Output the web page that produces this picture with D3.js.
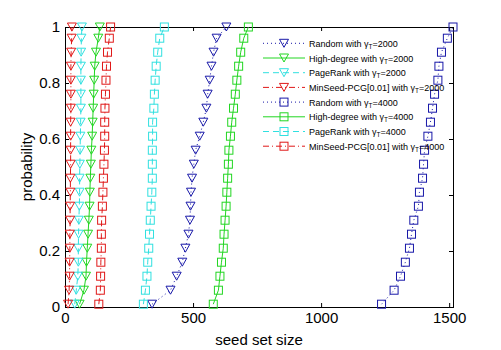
<!DOCTYPE html>
<html>
<head>
<meta charset="utf-8">
<script src="https://cdn.jsdelivr.net/npm/d3@7"></script>
<style>
  html, body { margin: 0; padding: 0; background: #fff; }
  svg { display: block; }
  text { font-family: "Liberation Sans", Arial, Helvetica, sans-serif; }
</style>
</head>
<body>
<svg id="chart" width="501" height="350"></svg>
<script>
// ---- data ----
const probabilities = [0.01, 0.06, 0.11, 0.16, 0.21, 0.26, 0.31, 0.36, 0.41, 0.46, 0.51,
                       0.56, 0.61, 0.66, 0.71, 0.76, 0.81, 0.86, 0.91, 0.96, 1.00];

const random2000    = [340, 412, 436, 458, 470, 482, 488, 490, 492, 496, 503, 510, 526, 540, 552, 557, 565, 572, 580, 592, 630];
const highdeg2000   = [57, 74, 82, 84, 87, 90, 93, 96, 97, 99, 101, 103, 106, 108, 110, 112, 114, 116, 121, 130, 136];
const pagerank2000  = [38, 44, 50, 52, 52, 53, 54, 56, 57, 57, 58, 59, 60, 61, 62, 62, 62, 62, 63, 64, 66];
const minseed2000   = [12, 16, 18, 18, 19, 19, 20, 20, 21, 21, 22, 22, 22, 22, 23, 23, 23, 23, 24, 26, 27];
const random4000    = [1236, 1285, 1310, 1329, 1345, 1353, 1362, 1380, 1384, 1396, 1400, 1404, 1417, 1427, 1435, 1443, 1456, 1460, 1470, 1493, 1515];
const highdeg4000   = [579, 599, 605, 611, 618, 621, 625, 629, 632, 635, 638, 640, 646, 651, 658, 665, 671, 678, 686, 698, 716];
const pagerank4000  = [306, 314, 320, 323, 327, 330, 333, 336, 339, 341, 341, 341, 342, 342, 347, 349, 352, 356, 362, 370, 388];
const minseed4000   = [132, 138, 139, 140, 142, 142, 143, 146, 148, 150, 152, 154, 155, 155, 156, 158, 160, 162, 166, 173, 178];

const seriesNames = ["Random", "High-degree", "PageRank", "MinSeed-PCG[0.01]",
                     "Random", "High-degree", "PageRank", "MinSeed-PCG[0.01]"];
const seriesGamma = ["2000", "2000", "2000", "2000", "4000", "4000", "4000", "4000"];
const seriesValues = [random2000, highdeg2000, pagerank2000, minseed2000,
                      random4000, highdeg4000, pagerank4000, minseed4000];

const xTicks = [0, 500, 1000, 1500];
const yTicks = [0, 0.2, 0.4, 0.6, 0.8, 1];
const xTickLabels = ["0", "500", "1000", "1500"];
const yTickLabels = ["0", "0.2", "0.4", "0.6", "0.8", "1"];

// ---- styles ----
const colors = ["#1818a8", "#22d622", "#30e0e0", "#e01818",
                "#1818a8", "#22d622", "#30e0e0", "#e01818"];
const dashes = ["1,3", null, "6,4", "6,3,1,3", "1,3", null, "6,4", "6,3,1,3"];
const markers = ["tri", "tri", "tri", "tri", "sq", "sq", "sq", "sq"];

const svg = d3.select("#chart");
const L = 65, R = 453, T = 27, B = 307;

const x = d3.scaleLinear()
  .domain([0, d3.max(seriesValues.flat())])
  .range([L, R]);
const y = d3.scaleLinear().domain([0, 1]).range([B, T]);

// axes
const tick = 4;
const gx = svg.append("g").attr("transform", `translate(0,${B})`)
  .call(d3.axisBottom(x).tickValues(xTicks).tickSizeInner(-tick).tickSizeOuter(0).tickPadding(6)
        .tickFormat((d, i) => xTickLabels[i]));
const gxt = svg.append("g").attr("transform", `translate(0,${T})`)
  .call(d3.axisTop(x).tickValues(xTicks).tickSizeInner(-tick).tickSizeOuter(0).tickFormat(""));
const gy = svg.append("g").attr("transform", `translate(${L},0)`)
  .call(d3.axisLeft(y).tickValues(yTicks).tickSizeInner(-tick).tickSizeOuter(0).tickPadding(5)
        .tickFormat((d, i) => yTickLabels[i]));
const gyr = svg.append("g").attr("transform", `translate(${R},0)`)
  .call(d3.axisRight(y).tickValues(yTicks).tickSizeInner(-tick).tickSizeOuter(0).tickFormat(""));

[gx, gxt, gy, gyr].forEach(g => {
  g.selectAll(".domain").remove();
  g.selectAll("line").attr("stroke", "#000").attr("stroke-width", 1);
  g.selectAll("text").attr("font-size", 15).attr("fill", "#000")
    .style("font-family", '"Liberation Sans", Arial, sans-serif');
});
gx.selectAll("text").attr("dy", null).attr("y", 16);

// box
svg.append("rect").attr("x", L).attr("y", T).attr("width", R - L).attr("height", B - T)
  .attr("fill", "none").attr("stroke", "#000").attr("stroke-width", 1)
  .attr("shape-rendering", "crispEdges");

// labels
svg.append("text").attr("x", (L + R) / 2).attr("y", 345).attr("text-anchor", "middle")
  .attr("font-size", 15).text("seed set size");
svg.append("text").attr("transform", `translate(32,${(T + B) / 2}) rotate(-90)`)
  .attr("text-anchor", "middle").attr("font-size", 15).text("probability");

// marker shapes
function drawMarker(g, type, cx, cy, color) {
  if (type === "tri") {
    const w = 4.5, h = 4;
    g.append("path")
      .attr("d", `M${cx - w},${cy - h}L${cx + w},${cy - h}L${cx},${cy + h}Z`)
      .attr("fill", "none").attr("stroke", color).attr("stroke-width", 1);
  } else {
    const s = 4;
    g.append("rect").attr("x", cx - s).attr("y", cy - s).attr("width", 2 * s).attr("height", 2 * s)
      .attr("fill", "none").attr("stroke", color).attr("stroke-width", 1);
  }
}

// series
const line = d3.line().x(d => x(d[0])).y(d => y(d[1]));
seriesValues.forEach((vals, i) => {
  const pts = vals.map((v, j) => [v, probabilities[j]]);
  const g = svg.append("g");
  g.append("path").attr("d", line(pts)).attr("fill", "none")
    .attr("stroke", colors[i]).attr("stroke-width", 1)
    .attr("stroke-dasharray", dashes[i]);
  pts.forEach(p => drawMarker(g, markers[i], x(p[0]), y(p[1]), colors[i]));
});

// legend
const legX0 = 263, legX1 = 305, legMid = 284, legTextX = 309, legY0 = 43.3, legDy = 14.7;
seriesNames.forEach((name, i) => {
  const ly = legY0 + i * legDy;
  const g = svg.append("g");
  g.append("line").attr("x1", legX0).attr("x2", legX1).attr("y1", ly).attr("y2", ly)
    .attr("stroke", colors[i]).attr("stroke-width", 1).attr("stroke-dasharray", dashes[i]);
  drawMarker(g, markers[i], legMid, ly, colors[i]);
  const t = g.append("text").attr("x", legTextX).attr("y", ly + 3.5).attr("font-size", 9).attr("fill", "#000");
  t.append("tspan").text(name + " with \u03B3");
  t.append("tspan").attr("font-size", 6.5).attr("dy", 2).text("T");
  t.append("tspan").attr("dy", -2).text("=" + seriesGamma[i]);
});
</script>
</body>
</html>
